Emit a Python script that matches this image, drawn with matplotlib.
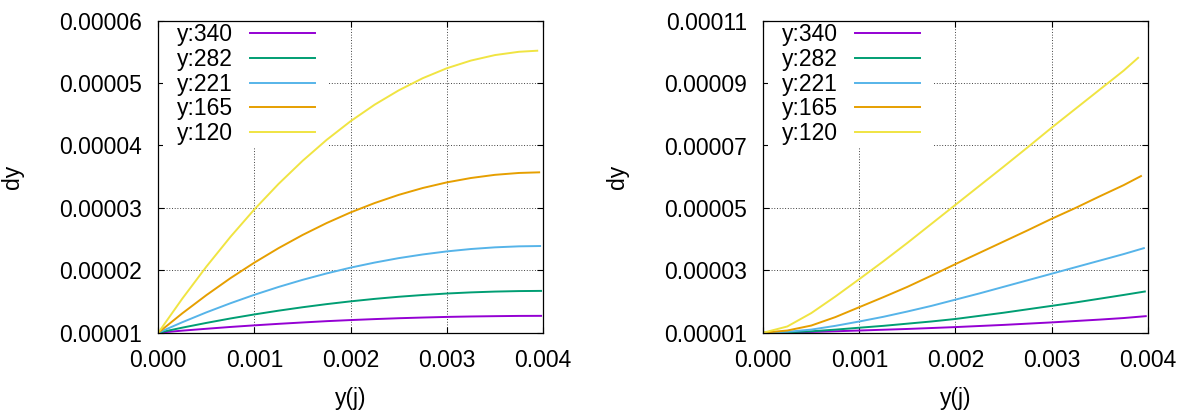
import matplotlib
matplotlib.use("Agg")
import matplotlib.pyplot as plt
import numpy as np
from matplotlib.path import Path
from matplotlib.ticker import FormatStrFormatter

plt.rcParams['font.family'] = ['Liberation Sans', 'DejaVu Sans']

# series names and gnuplot default colours
labels = ["y:340", "y:282", "y:221", "y:165", "y:120"]
colors = ["#9400d3", "#009e73", "#56b4e9", "#e69f00", "#f0e442"]

# common x samples of y(j); the last point of each curve is given separately
x_common = [0.0, 0.00025, 0.0005, 0.00075, 0.001, 0.00125, 0.0015, 0.00175, 0.002,
            0.00225, 0.0025, 0.00275, 0.003, 0.00325, 0.0035, 0.00375]

# dy values are read in units of 1e-5
DY_UNIT = 1e-5

# left panel
left_x_end = [0.00398, 0.00398, 0.00397, 0.00396, 0.00394]
left_dy = [
    [1.000, 1.033, 1.063, 1.092, 1.118, 1.142, 1.164, 1.185, 1.2025, 1.218, 1.232, 1.243, 1.253, 1.260, 1.265, 1.269, 1.270],
    [1.000, 1.081, 1.157, 1.228, 1.293, 1.353, 1.408, 1.458, 1.5025, 1.542, 1.576, 1.604, 1.628, 1.646, 1.659, 1.667, 1.670],
    [1.000, 1.168, 1.326, 1.472, 1.608, 1.733, 1.847, 1.950, 2.043, 2.124, 2.195, 2.254, 2.303, 2.341, 2.368, 2.384, 2.389],
    [1.000, 1.311, 1.602, 1.874, 2.124, 2.355, 2.566, 2.757, 2.928, 3.078, 3.209, 3.319, 3.409, 3.479, 3.530, 3.560, 3.570],
    [1.000, 1.547, 2.059, 2.536, 2.978, 3.384, 3.754, 4.090, 4.390, 4.655, 4.884, 5.079, 5.238, 5.361, 5.449, 5.502, 5.519],
]

# right panel
right_x_end = [0.00398, 0.00397, 0.00396, 0.00393, 0.00390]
right_dy = [
    [1.000, 1.008, 1.025, 1.046, 1.070, 1.095, 1.120, 1.150, 1.180, 1.215, 1.250, 1.290, 1.330, 1.375, 1.420, 1.470, 1.530],
    [1.000, 1.013, 1.045, 1.098, 1.160, 1.220, 1.290, 1.360, 1.440, 1.540, 1.640, 1.750, 1.860, 1.970, 2.090, 2.210, 2.320],
    [1.000, 1.030, 1.100, 1.220, 1.360, 1.510, 1.680, 1.860, 2.060, 2.260, 2.470, 2.680, 2.890, 3.100, 3.310, 3.520, 3.710],
    [1.000, 1.070, 1.230, 1.500, 1.820, 2.140, 2.470, 2.830, 3.200, 3.560, 3.920, 4.280, 4.650, 5.000, 5.370, 5.730, 6.020],
    [1.000, 1.200, 1.630, 2.160, 2.720, 3.290, 3.880, 4.490, 5.100, 5.710, 6.320, 6.940, 7.570, 8.180, 8.790, 9.400, 9.810],
]

x_ticks = [0.000, 0.001, 0.002, 0.003, 0.004]
left_yticks = [1e-5, 2e-5, 3e-5, 4e-5, 5e-5, 6e-5]
right_yticks = [1e-5, 3e-5, 5e-5, 7e-5, 9e-5, 11e-5]

FS = 16.5


def key_box(x0, y0, width, height, mutation_size):
    # legend background, wider left/right than top/bottom (gnuplot key look)
    ext = 0.5 * mutation_size
    return Path([(x0 - ext, y0), (x0 + width + ext, y0), (x0 + width + ext, y0 + height),
                 (x0 - ext, y0 + height), (x0 - ext, y0)], closed=True)


def draw_panel(ax, x_end, dys, yticks):
    ax.set_axisbelow(True)
    for lab, col, xe, dy in zip(labels, colors, x_end, dys):
        ax.plot(x_common + [xe], np.array(dy) * DY_UNIT, color=col, lw=1.4,
                label=lab, zorder=2)
    ax.set_xlim(0, 0.004)
    ax.set_ylim(yticks[0], yticks[-1])
    ax.set_xticks(x_ticks)
    ax.set_yticks(yticks)
    ax.xaxis.set_major_formatter(FormatStrFormatter('%.3f'))
    ax.yaxis.set_major_formatter(FormatStrFormatter('%.5f'))
    ax.tick_params(direction='in', top=True, right=True, length=4, width=0.8,
                   labelsize=FS, pad=11.5)
    ax.grid(True, color='0.15', lw=0.65, linestyle=(0, (1, 2)))
    for s in ax.spines.values():
        s.set_linewidth(0.9)
    ax.set_xlabel('y(j)', fontsize=FS)
    ax.set_ylabel('dy', fontsize=FS)
    ax.xaxis.set_label_coords(0.5, -0.175)
    ax.yaxis.set_label_coords(-0.35, 0.5)
    leg = ax.legend(loc='upper left', bbox_to_anchor=(0.042, 1.0), borderaxespad=0,
                    borderpad=0.1, markerfirst=False, handlelength=2.84,
                    handletextpad=0.73, labelspacing=0.08, fontsize=FS,
                    frameon=True, fancybox=False, framealpha=1,
                    facecolor='white', edgecolor='none')
    leg.set_zorder(1)
    leg.get_frame().set_boxstyle(key_box)


fig = plt.figure(figsize=(11.85, 4.15), dpi=100)
ax1 = fig.add_axes([158.3 / 1185, 82.3 / 415, 384.7 / 1185, 312.0 / 415])
ax2 = fig.add_axes([763.3 / 1185, 82.3 / 415, 384.4 / 1185, 312.0 / 415])

draw_panel(ax1, left_x_end, left_dy, left_yticks)
draw_panel(ax2, right_x_end, right_dy, right_yticks)

fig.savefig('out.png', dpi=100)
